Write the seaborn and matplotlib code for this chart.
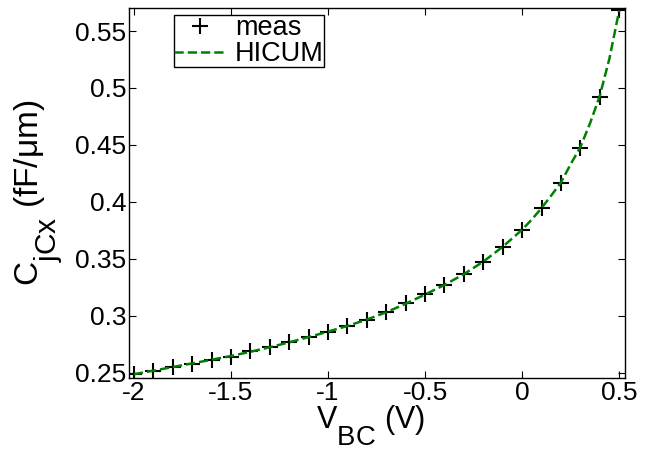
import matplotlib
matplotlib.use("Agg")
import matplotlib.pyplot as plt
import seaborn as sns
import pandas as pd
from matplotlib.lines import Line2D

try:
    import matplotlib._mathtext as _mt
    _mt.SHRINK_FACTOR = 0.9
    _mt.FontConstantsBase.sub1 = 1.05
    _mt.FontConstantsBase.subdrop = 1.05
except Exception:
    pass

sns.set_style("ticks")
plt.rcParams['font.family'] = ['Liberation Sans', 'DejaVu Sans']
plt.rcParams['mathtext.fontset'] = 'custom'
plt.rcParams['mathtext.rm'] = 'Liberation Sans'
plt.rcParams['mathtext.it'] = 'Liberation Sans'
for k in ['text.color', 'axes.labelcolor', 'xtick.color', 'ytick.color',
          'axes.edgecolor']:
    plt.rcParams[k] = 'black'

# measured data
vbc_meas = [-2.0, -1.9, -1.8, -1.7, -1.6, -1.5, -1.4, -1.3, -1.2, -1.1, -1.0,
            -0.9, -0.8, -0.7, -0.6, -0.5, -0.4, -0.3, -0.2, -0.1, 0.0,
            0.1, 0.2, 0.3, 0.4, 0.5]
cjcx_meas = [0.2486, 0.2515, 0.2550, 0.2580, 0.2609, 0.2638, 0.2688, 0.2726,
             0.2770, 0.2814, 0.2858, 0.2908, 0.2965, 0.3034, 0.3113, 0.3189,
             0.3268, 0.3365, 0.3473, 0.3605, 0.3751, 0.3942, 0.4162, 0.4475,
             0.4923, 0.5685]

# HICUM model curve
vbc_model = [-2.0, -1.9, -1.8, -1.7, -1.6, -1.5, -1.4, -1.3, -1.2, -1.1, -1.0,
             -0.9, -0.8, -0.7, -0.6, -0.5, -0.4, -0.3, -0.2, -0.1, 0.0, 0.05,
             0.1, 0.15, 0.2, 0.25, 0.3, 0.35, 0.4, 0.45, 0.5]
cjcx_model = [0.2486, 0.2517, 0.2549, 0.2581, 0.2613, 0.2646, 0.2683, 0.2723,
              0.2766, 0.2812, 0.2860, 0.2910, 0.2966, 0.3030, 0.3105, 0.3186,
              0.3270, 0.3365, 0.3475, 0.3605, 0.3755, 0.3845, 0.3945, 0.4055,
              0.4170, 0.4330, 0.4480, 0.4690, 0.4930, 0.5260, 0.5680]

xticks = [-2, -1.5, -1, -0.5, 0, 0.5]
xticklabels = ['-2', '-1.5', '-1', '-0.5', '0', '0.5']
yticks = [0.25, 0.3, 0.35, 0.4, 0.45, 0.5, 0.55]
yticklabels = ['0.25', '0.3', '0.35', '0.4', '0.45', '0.5', '0.55']

df_meas = pd.DataFrame({'V': vbc_meas, 'C': cjcx_meas})
df_model = pd.DataFrame({'V': vbc_model, 'C': cjcx_model})

fig = plt.figure(figsize=(6.45, 4.57), dpi=100)
ax = fig.add_axes([0.2, 0.1729, 0.769, 0.8096])

sns.scatterplot(data=df_meas, x='V', y='C', marker='+', s=125, color='black',
                linewidth=1.5, ax=ax, zorder=2)
sns.lineplot(data=df_model, x='V', y='C', color='#008000', linestyle='--',
             linewidth=1.8, ax=ax, zorder=3, sort=True)

ax.set_xlim(-2.025, 0.53)
ax.set_ylim(0.2453, 0.5702)
ax.set_xticks(xticks)
ax.set_xticklabels(xticklabels)
ax.set_yticks(yticks)
ax.set_yticklabels(yticklabels)
ax.tick_params(direction='in', length=5, width=0.8, labelsize=19,
               top=True, right=True, colors='black', pad=2)
for s in ax.spines.values():
    s.set_visible(True)
    s.set_linewidth(1.0)
    s.set_color('black')

ax.set_xlabel(r'V$_{\mathrm{BC}}$ (V)', fontsize=22, labelpad=-1, x=0.486)
ax.set_ylabel(r'C$_{\mathrm{jCx}}$ (fF/μm)', fontsize=24, labelpad=7)

handles = [Line2D([], [], marker='+', color='black', linestyle='none',
                  markersize=11, markeredgewidth=1.5),
           Line2D([], [], color='#008000', linestyle='--', linewidth=1.8)]
leg = ax.legend(handles, ['meas', 'HICUM'], loc='upper left',
                bbox_to_anchor=(0.0907, 0.981), fontsize=19.5, frameon=True,
                fancybox=False, edgecolor='black', framealpha=1,
                borderpad=0.0, handlelength=1.9, handletextpad=0.35,
                labelspacing=0.0, borderaxespad=0)
leg.get_frame().set_linewidth(1.0)

fig.savefig('out.png', dpi=100)
